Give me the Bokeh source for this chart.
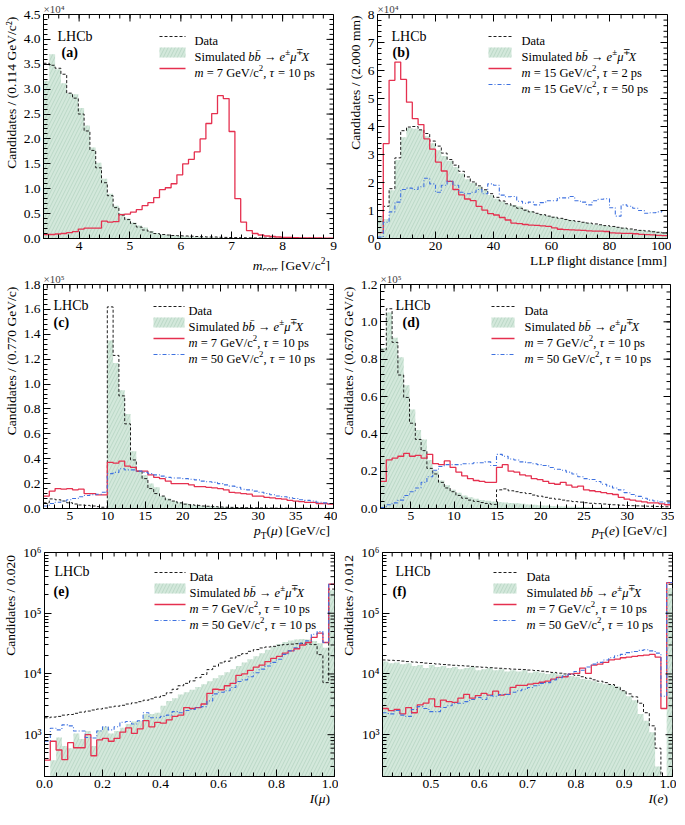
import math
import numpy as np
from bokeh.plotting import figure
from bokeh.models import Range1d, FixedTicker, Label, CustomJSTickFormatter, PrintfTickFormatter, Div
from bokeh.layouts import column, row
from bokeh.embed import file_html
from bokeh.resources import INLINE

FONT = "Liberation Serif"
C_DATA = "#1e1e1e"
C_RED = "#e5304f"
C_BLUE = "#3f72e0"
C_FILL = "#d3e8db"
C_HATCH = "#a9cdb9"
NBINS = 50

# ---------------- data ----------------
# (a) m_corr, 3.3-9.0 GeV/c^2, units 1e4
A_RANGE = (3.3, 9.0)
a_data = [3.52, 3.48, 3.42, 3.30, 2.92, 2.82, 2.50, 2.16, 1.77, 1.42,
          1.12, 0.86, 0.62, 0.47, 0.38, 0.30, 0.23, 0.17, 0.13, 0.10,
          0.08, 0.07, 0.06, 0.055, 0.05, 0.045, 0.04, 0.035, 0.03, 0.03,
          0.025, 0.022, 0.02, 0.018, 0.015, 0.013, 0.012, 0.01, 0.009, 0.008,
          0.007, 0.006, 0.005, 0.005, 0.004, 0.004, 0.003, 0.003, 0.002, 0.002]
a_sim = [3.17, 3.70, 3.40, 3.12, 2.92, 2.90, 2.62, 2.27, 1.83, 1.52,
         1.20, 0.90, 0.66, 0.50, 0.40, 0.32, 0.26, 0.22, 0.15, 0.11,
         0.08, 0.07, 0.06, 0.05, 0.04, 0.035, 0.03, 0.025, 0.02, 0.018,
         0.015, 0.012, 0.01, 0.008, 0.007, 0.006, 0.005, 0.004, 0.004, 0.003,
         0.003, 0.002, 0.002, 0.002, 0.001, 0.001, 0.001, 0.001, 0.001, 0.001]
a_sig7 = [0.08, 0.08, 0.09, 0.10, 0.12, 0.14, 0.19, 0.21, 0.21, 0.21,
          0.35, 0.33, 0.34, 0.48, 0.49, 0.53, 0.58, 0.66, 0.72, 0.82,
          0.98, 1.02, 1.10, 1.28, 1.50, 1.59, 1.74, 2.00, 2.31, 2.51,
          2.87, 2.81, 2.15, 0.80, 0.33, 0.16, 0.10, 0.07, 0.05, 0.04,
          0.03, 0.02, 0.02, 0.015, 0.01, 0.01, 0.01, 0.01, 0.005, 0.005]

# (b) LLP flight distance, 0-100 mm, units 1e4
B_RANGE = (0.0, 100.0)
b_data = [0.60, 1.15, 1.78, 2.88, 3.85, 3.98, 4.00, 3.88, 3.75, 3.48,
          3.30, 3.05, 2.82, 2.62, 2.40, 2.20, 2.02, 1.88, 1.74, 1.60,
          1.47, 1.34, 1.24, 1.16, 1.08, 1.01, 0.95, 0.90, 0.85, 0.80,
          0.76, 0.72, 0.68, 0.64, 0.61, 0.58, 0.55, 0.52, 0.49, 0.46,
          0.43, 0.40, 0.37, 0.34, 0.31, 0.29, 0.27, 0.24, 0.22, 0.20]
b_sim = [0.80, 0.70, 1.72, 2.80, 3.62, 3.95, 3.92, 3.88, 3.65, 3.40,
         3.15, 2.95, 2.78, 2.55, 2.32, 2.12, 1.98, 1.85, 1.72, 1.55,
         1.42, 1.32, 1.22, 1.20, 1.15, 1.05, 0.98, 0.88, 0.86, 0.80,
         0.78, 0.72, 0.70, 0.66, 0.60, 0.58, 0.55, 0.50, 0.48, 0.45,
         0.42, 0.40, 0.38, 0.33, 0.30, 0.30, 0.27, 0.28, 0.25, 0.20]
b_sig2 = [0.21, 3.39, 5.65, 6.30, 5.68, 4.87, 4.28, 4.07, 3.56, 3.19,
          2.73, 2.41, 2.04, 1.75, 1.56, 1.41, 1.35, 1.15, 1.01, 0.89,
          0.84, 0.75, 0.66, 0.55, 0.53, 0.50, 0.48, 0.47, 0.45, 0.43,
          0.38, 0.33, 0.32, 0.31, 0.30, 0.29, 0.27, 0.26, 0.26, 0.25,
          0.20, 0.19, 0.18, 0.18, 0.17, 0.15, 0.14, 0.13, 0.11, 0.10]
b_sig50 = [0.05, 0.58, 0.95, 1.30, 1.75, 1.80, 1.75, 1.85, 2.15, 1.95,
           1.65, 1.90, 2.05, 1.90, 1.65, 1.60, 1.65, 1.75, 1.60, 1.95,
           1.90, 1.55, 1.49, 1.50, 1.33, 1.26, 1.30, 1.20, 1.28, 1.35,
           1.35, 1.45, 1.45, 1.50, 1.35, 1.30, 1.20, 1.35, 1.40, 1.42,
           1.10, 0.80, 1.20, 1.15, 1.08, 1.00, 0.90, 0.92, 0.95, 1.00]

# (c) pT(mu), 1.5-40 GeV/c, units 1e5
C_RANGE = (1.5, 40.0)
c_data = [0.046, 0.077, 0.070, 0.060, 0.046, 0.036, 0.028, 0.025, 0.020, 0.015,
          0.010, 1.62, 1.23, 0.905, 0.68, 0.39, 0.30, 0.24, 0.16, 0.12,
          0.10, 0.07, 0.06, 0.045, 0.035, 0.03, 0.025, 0.02, 0.018, 0.015,
          0.012, 0.01, 0.009, 0.008, 0.007, 0.006, 0.005, 0.005, 0.004, 0.004,
          0.003, 0.003, 0.003, 0.002, 0.002, 0.002, 0.002, 0.001, 0.001, 0.001]
c_sim = [0.0, 0.0, 0.0, 0.0, 0.0, 0.0, 0.0, 0.0, 0.0, 0.0,
         0.0, 1.35, 1.17, 0.95, 0.76, 0.46, 0.30, 0.27, 0.20, 0.17,
         0.10, 0.08, 0.06, 0.05, 0.04, 0.03, 0.025, 0.02, 0.018, 0.015,
         0.012, 0.01, 0.009, 0.008, 0.007, 0.006, 0.005, 0.005, 0.004, 0.004,
         0.003, 0.003, 0.003, 0.002, 0.002, 0.002, 0.002, 0.001, 0.001, 0.001]
c_sig7 = [0.10, 0.14, 0.16, 0.155, 0.16, 0.15, 0.155, 0.12, 0.12, 0.11,
          0.11, 0.37, 0.365, 0.38, 0.34, 0.33, 0.30, 0.30, 0.27, 0.25,
          0.24, 0.22, 0.20, 0.20, 0.20, 0.19, 0.175, 0.175, 0.17, 0.165,
          0.16, 0.15, 0.13, 0.125, 0.12, 0.115, 0.10, 0.10, 0.09, 0.085,
          0.08, 0.075, 0.065, 0.06, 0.055, 0.05, 0.05, 0.04, 0.04, 0.035]
c_sig50 = [0.02, 0.04, 0.05, 0.06, 0.07, 0.08, 0.095, 0.105, 0.11, 0.115,
           0.13, 0.28, 0.29, 0.32, 0.31, 0.31, 0.30, 0.29, 0.28, 0.27,
           0.26, 0.25, 0.245, 0.245, 0.24, 0.235, 0.23, 0.22, 0.215, 0.21,
           0.20, 0.19, 0.18, 0.17, 0.155, 0.15, 0.14, 0.13, 0.12, 0.11,
           0.10, 0.095, 0.085, 0.08, 0.07, 0.065, 0.06, 0.05, 0.045, 0.04]

# (d) pT(e), 1.5-35 GeV/c, units 1e5
D_RANGE = (1.5, 35.0)
d_data = [0.85, 1.07, 0.89, 0.715, 0.595, 0.457, 0.37, 0.31, 0.215, 0.185,
          0.14, 0.11, 0.09, 0.07, 0.055, 0.045, 0.038, 0.032, 0.027, 0.022,
          0.10, 0.105, 0.095, 0.09, 0.085, 0.08, 0.072, 0.066, 0.06, 0.055,
          0.05, 0.045, 0.041, 0.037, 0.034, 0.031, 0.028, 0.026, 0.024, 0.022,
          0.02, 0.018, 0.016, 0.015, 0.014, 0.013, 0.012, 0.011, 0.010, 0.009]
d_sim = [0.86, 1.05, 0.915, 0.81, 0.66, 0.53, 0.42, 0.37, 0.26, 0.20,
         0.15, 0.125, 0.10, 0.085, 0.07, 0.06, 0.052, 0.046, 0.041, 0.038,
         0.035, 0.032, 0.03, 0.028, 0.025, 0.022, 0.02, 0.018, 0.016, 0.014,
         0.012, 0.011, 0.01, 0.009, 0.008, 0.007, 0.006, 0.0055, 0.005, 0.0045,
         0.004, 0.0035, 0.003, 0.003, 0.0025, 0.0025, 0.002, 0.002, 0.002, 0.002]
d_sig7 = [0.145, 0.26, 0.27, 0.28, 0.295, 0.28, 0.285, 0.27, 0.29, 0.24,
          0.235, 0.255, 0.22, 0.195, 0.175, 0.16, 0.15, 0.145, 0.14, 0.14,
          0.22, 0.235, 0.20, 0.195, 0.18, 0.175, 0.16, 0.155, 0.145, 0.135,
          0.13, 0.14, 0.125, 0.115, 0.12, 0.10, 0.095, 0.09, 0.085, 0.08,
          0.075, 0.06, 0.05, 0.045, 0.04, 0.035, 0.03, 0.03, 0.025, 0.02]
d_sig50 = [0.005, 0.02, 0.03, 0.045, 0.07, 0.09, 0.11, 0.14, 0.17, 0.205,
           0.225, 0.235, 0.235, 0.235, 0.24, 0.24, 0.245, 0.245, 0.25, 0.23,
           0.29, 0.28, 0.265, 0.26, 0.25, 0.245, 0.24, 0.235, 0.23, 0.22,
           0.21, 0.205, 0.195, 0.185, 0.17, 0.16, 0.155, 0.145, 0.13, 0.12,
           0.11, 0.10, 0.085, 0.075, 0.065, 0.055, 0.045, 0.04, 0.035, 0.03]

# (e) I(mu), 0-1, candidates
E_RANGE = (0.0, 1.0)
e_data = [1900, 1950, 2000, 2100, 2150, 2250, 2350, 2450, 2550, 2650,
          2750, 2850, 2950, 3050, 3200, 3350, 3500, 3700, 3900, 4150,
          4400, 4900, 5600, 6400, 7000, 7700, 8700, 9800, 11800, 13400,
          15200, 16200, 18300, 20000, 21600, 23600, 25200, 26800, 27800, 28500,
          29600, 30400, 31000, 31500, 32000, 31000, 30400, 20800, 7200, 250000]
e_sim = [100, 380, 900, 650, 600, 1050, 850, 1150, 650, 1200,
         1350, 1050, 1150, 1300, 1500, 1650, 1700, 2200, 2200, 2300,
         3000, 3600, 4000, 4600, 5000, 5500, 6100, 6800, 7600, 8500,
         9500, 10700, 12000, 13500, 15500, 17500, 19500, 22000, 25000, 28000,
         31000, 33500, 35500, 37000, 37500, 37000, 35000, 32000, 27000, 240000]
e_sig7 = [380, 780, 560, 390, 740, 610, 610, 1000, 450, 820,
          870, 780, 870, 1100, 1300, 1050, 1250, 1700, 1350, 1600,
          1550, 1750, 2000, 2100, 2800, 2700, 2800, 3200, 4800, 5600,
          5500, 6400, 7000, 9500, 10000, 11500, 13000, 14000, 16000, 18000,
          19500, 22000, 24000, 26000, 30000, 33000, 40000, 47000, 33000, 300000]
e_sig50 = [780, 1280, 1200, 1450, 1400, 1150, 1150, 900, 880, 1150,
           1350, 1200, 1350, 1600, 1650, 1500, 1700, 2300, 1900, 1900,
           2000, 2100, 2400, 2300, 2500, 2600, 2800, 2900, 3600, 4700,
           5000, 5300, 6000, 7500, 8000, 9000, 10500, 12000, 13500, 15500,
           17500, 21000, 24000, 27000, 32000, 35000, 45000, 50000, 33000, 300000]

# (f) I(e), 0.4-1.0, candidates
F_RANGE = (0.4, 1.0)
f_data = [17000, 16800, 16600, 16300, 16000, 15700, 15400, 15100, 14900, 14600,
          14300, 14100, 13900, 13700, 13500, 13300, 13100, 12900, 12700, 12500,
          12400, 12200, 12000, 11900, 11800, 11600, 11400, 11100, 10900, 10600,
          10300, 10000, 9800, 9500, 9000, 8500, 8000, 7600, 7200, 6700,
          6000, 5300, 4700, 4200, 3300, 2300, 1400, 600, 150, 150]
f_sim = [16000, 15000, 15500, 14500, 15000, 13500, 14000, 12500, 14000, 13000,
         13500, 12500, 13000, 12000, 12500, 13000, 11500, 12000, 12500, 11500,
         12000, 11000, 11500, 11000, 11500, 10500, 11000, 10500, 10000, 10500,
         9800, 9500, 9300, 9000, 8300, 8000, 7600, 7200, 6800, 6600,
         6200, 5300, 4300, 3700, 2200, 1700, 1100, 300, 60, 260000]
f_sig7 = [2700, 2500, 2600, 2200, 2800, 2300, 3100, 3300, 3900, 2900,
          3700, 3500, 3400, 4000, 4600, 4000, 4400, 4800, 4500, 5200,
          4500, 4600, 6000, 6500, 6500, 6800, 7000, 7300, 7600, 8200,
          8800, 9000, 10000, 10200, 12500, 10200, 14000, 14500, 15500, 17000,
          17500, 18500, 19000, 19500, 20000, 20500, 21000, 19000, 2700, 320000]
f_sig50 = [2300, 2200, 2500, 2100, 2000, 2600, 2900, 2700, 2400, 2400,
           2800, 3000, 3300, 3300, 3500, 3800, 4100, 3800, 4400, 4300,
           4600, 4600, 5000, 5300, 5600, 6000, 6400, 7000, 7200, 8000,
           8700, 9300, 10000, 11000, 11500, 13000, 14500, 15500, 17000, 18500,
           20000, 21000, 22500, 23500, 24500, 25000, 24000, 22000, 4300, 320000]

# ---------------- text metrics (Times / Liberation Serif, 1/1000 em) ----------------
_REG = {c: 500 for c in "0123456789"}
_REG.update(dict(zip("ABCDEFGHIJKLMNOPQRSTUVWXYZ",
                     [722, 667, 667, 722, 611, 556, 722, 722, 333, 389, 722, 611, 889,
                      722, 722, 556, 722, 667, 556, 611, 722, 722, 944, 722, 722, 611])))
_REG.update(dict(zip("abcdefghijklmnopqrstuvwxyz",
                     [444, 500, 444, 500, 444, 333, 500, 500, 278, 278, 500, 278, 778,
                      500, 500, 500, 500, 333, 389, 278, 500, 500, 722, 500, 500, 444])))
_REG.update({" ": 250, "\u00a0": 250, "(": 333, ")": 333, "[": 333, "]": 333, "/": 278,
             ".": 250, ",": 250, "=": 564, "\u00b1": 564, "\u2213": 564, "\u2192": 1000,
             "\u00b2": 300, "\u03bc": 500, "\u03c4": 440, "\u0304": 0, "\u00d7": 564})
_ITA = dict(_REG)
_ITA.update(dict(zip("abcdefghijklmnopqrstuvwxyz",
                     [500, 500, 444, 500, 444, 278, 500, 500, 278, 278, 444, 278, 722,
                      500, 500, 500, 500, 389, 389, 278, 500, 444, 667, 444, 444, 389])))
_ITA.update(dict(zip("ABCDEFGHIJKLMNOPQRSTUVWXYZ",
                     [611, 611, 667, 722, 611, 611, 722, 722, 333, 444, 667, 556, 833,
                      667, 722, 611, 722, 611, 500, 556, 722, 611, 833, 611, 556, 556])))


def tw(s, size, italic=False):
    tbl = _ITA if italic else _REG
    return sum(tbl.get(c, 500) for c in s) * size / 1000.0


FW, FH = 290, 224
BL, BR = 40, 4
AX_FS = 13.5

LOGFMT = CustomJSTickFormatter(code="""
const s = {"0":"\u2070","1":"\u00b9","2":"\u00b2","3":"\u00b3","4":"\u2074","5":"\u2075","6":"\u2076","7":"\u2077","8":"\u2078","9":"\u2079"};
const e = Math.round(Math.log10(tick));
return "10" + String(e).split("").map(c => s[c]).join("");
""")


def ticks(start, stop, step):
    n = int(round((stop - start) / step))
    return [round(start + i * step, 6) for i in range(n + 1)]


def px2x(S, px):
    x0, x1 = S["xr"]
    return x0 + px / FW * (x1 - x0)


def py2y(S, py):
    y0, y1 = S["yr"]
    f = (FH - py) / FH
    if S["log"]:
        a, b = math.log10(y0), math.log10(y1)
        return 10 ** (a + f * (b - a))
    return y0 + f * (y1 - y0)


def txt(p, S, px, py, text, size, style="normal", align="left", baseline="alphabetic"):
    p.add_layout(Label(x=px2x(S, px), y=py2y(S, py), text=text, text_font=FONT,
                       text_font_size=f"{size:.2f}px", text_font_style=style,
                       text_align=align, text_baseline=baseline, text_color="black"))


def rich(p, S, px, py, pieces, size):
    x = px
    for t, st, sc, dy in pieces:
        s = size * sc
        it = "italic" in st
        lead = len(t) - len(t.lstrip(" "))
        core = t.strip(" ")
        if core:
            txt(p, S, x + tw(" " * lead, s, it), py + dy, core, s, st)
        x += tw(t, s, it)


def sig_label(m, tau):
    return [("m", "italic", 1, 0), (f" = {m} GeV/c", "normal", 1, 0), ("2", "normal", 0.7, -4.5),
            (", ", "normal", 1, 0), ("\u03c4", "italic", 1, 0), (f" = {tau} ps", "normal", 1, 0)]


DATA_T = [("Data", "normal", 1, 0)]
SIM_T = [("Simulated ", "normal", 1, 0), ("bb\u0304", "italic", 1, 0), (" \u2192 ", "normal", 1, 0),
         ("e", "italic", 1, 0), ("\u00b1", "normal", 0.72, -4.5), ("\u03bc", "italic", 1, 0),
         ("\u2213", "normal", 0.72, -4.5), ("X", "italic", 1, 0)]


def hist(p, edges, vals, color, dash="solid", width=1.0):
    xs = list(edges)
    ys = list(vals) + [vals[-1]]
    p.step(x=xs, y=ys, mode="after", line_color=color, line_dash=dash, line_width=width)


HATCH = dict(fill_color=C_FILL, hatch_pattern="/", hatch_color=C_HATCH, hatch_weight=0.6, hatch_scale=7)


def fill(p, edges, vals, base):
    xs = list(edges)
    ys = list(vals) + [vals[-1]]
    p.varea_step(x=xs, y1=[base] * len(xs), y2=ys, step_mode="after", **HATCH)


def in_range(v, a, b):
    return a - 1e-9 <= v <= b + 1e-9


def mirror_ticks(p, S):
    x0, x1 = S["xr"]
    y0, y1 = S["yr"]
    for vals, L in ((S["xmaj"], 7), (S["xmin"], 4)):
        xs = [v for v in vals if in_range(v, x0, x1)]
        p.segment(x0=xs, y0=[y1] * len(xs), x1=xs, y1=[py2y(S, L)] * len(xs),
                  line_color="black", line_width=1)
    for vals, L in ((S["ymaj"], 7), (S["ymin"], 4)):
        ys = [v for v in vals if in_range(v, y0, y1)]
        p.segment(x0=[x1] * len(ys), y0=ys, x1=[px2x(S, FW - L)] * len(ys), y1=ys,
                  line_color="black", line_width=1)


def top_aligned(label):
    # the axis title is centred on the axis; pad it in front so that its end meets the frame top
    n = int((FH - 2 - tw(label, AX_FS)) / tw("\u00a0", AX_FS))
    return "\u00a0" * max(n, 0) + label


def build(S):
    log = S["log"]
    p = figure(frame_width=FW, frame_height=FH,
               x_range=Range1d(*S["xr"]), y_range=Range1d(*S["yr"]),
               y_axis_type="log" if log else "linear",
               output_backend="svg", toolbar_location=None,
               min_border_left=BL, min_border_right=BR,
               min_border_top=S["bt"], min_border_bottom=16)
    p.xgrid.visible = False
    p.ygrid.visible = False
    p.outline_line_color = "black"
    p.background_fill_color = "white"
    p.border_fill_color = "white"

    # multiplier (x10^n) shown as the plot title, left aligned above the frame
    p.title.text = S.get("mult") or ""
    p.title.align = "left"
    p.title.text_font = FONT
    p.title.text_font_size = "11px"
    p.title.text_font_style = "normal"
    p.title.standoff = 0
    p.title.offset = 0

    xa, ya = p.below[0], p.left[0]
    xa.ticker = FixedTicker(ticks=S["xmaj"], minor_ticks=S["xmin"])
    ya.ticker = FixedTicker(ticks=S["ymaj"], minor_ticks=S["ymin"])
    xa.formatter = PrintfTickFormatter(format=S["xfmt"])
    ya.formatter = LOGFMT if log else PrintfTickFormatter(format=S["yfmt"])
    for ax in (xa, ya):
        ax.axis_line_color = "black"
        ax.major_tick_in = 7
        ax.major_tick_out = 0
        ax.minor_tick_in = 4
        ax.minor_tick_out = 0
        ax.major_tick_line_color = "black"
        ax.minor_tick_line_color = "black"
        ax.major_label_text_font = FONT
        ax.major_label_text_font_size = f"{AX_FS}px"
        ax.major_label_text_color = "black"
        ax.major_label_standoff = 3
    ya.axis_label = top_aligned(S["ylabel"])
    ya.axis_label_text_font = FONT
    ya.axis_label_text_font_size = f"{AX_FS}px"
    ya.axis_label_text_font_style = "normal"
    ya.axis_label_text_color = "black"
    ya.axis_label_standoff = 2

    edges = np.linspace(S["hr"][0], S["hr"][1], NBINS + 1)
    base = 1.0 if log else 0.0
    fill(p, edges, S["sim"], base)
    hist(p, edges, S["data"], C_DATA, dash="3 2", width=1.0)
    if S.get("red") is not None:
        hist(p, edges, S["red"], C_RED, width=1.3)
    if S.get("blue") is not None:
        hist(p, edges, S["blue"], C_BLUE, dash="4 2 1 2", width=1.1)
    mirror_ticks(p, S)

    # legend (drawn by hand so that the mixed italic text can be kept)
    lx0, lx1, ltx = S["leg_x"]
    for (kind, pieces), yc in zip(S["entries"], S["leg_rows"]):
        xa0, xb0 = px2x(S, lx0), px2x(S, lx1)
        if kind == "data":
            p.line(x=[xa0, xb0], y=[py2y(S, yc)] * 2, line_color=C_DATA, line_dash="3 2", line_width=1.0)
        elif kind == "sim":
            p.varea(x=[xa0, xb0], y1=[py2y(S, yc + 5)] * 2, y2=[py2y(S, yc - 5)] * 2, **HATCH)
        elif kind == "red":
            p.line(x=[xa0, xb0], y=[py2y(S, yc)] * 2, line_color=C_RED, line_width=1.3)
        elif kind == "blue":
            p.line(x=[xa0, xb0], y=[py2y(S, yc)] * 2, line_color=C_BLUE, line_dash="4 2 1 2", line_width=1.1)
        rich(p, S, ltx, yc + 4.3, pieces, 12.5)

    lx, ly = S["lhcb"]
    txt(p, S, lx, ly, "LHCb", 14)
    kx, ky = S["letter_pos"]
    txt(p, S, kx, ky, S["letter"], 14, style="bold")

    div = Div(text=S["xlabel"], width=BL + FW + BR, height=16, margin=(0, 0, 0, 0),
              styles={"text-align": "right", "font-family": "'Liberation Serif', serif",
                      "font-size": f"{AX_FS}px", "line-height": "14px", "color": "black",
                      "padding-right": f"{BR}px", "box-sizing": "border-box",
                      "white-space": "nowrap"})
    return column(p, div, spacing=0)


LOG_MINOR = [m * 10 ** e for e in (2, 3, 4, 5) for m in range(2, 10)]

SIG7 = ("red", sig_label(7, 10))
SIG50 = ("blue", sig_label(50, 10))

specs = {
    "a": dict(xr=A_RANGE, hr=A_RANGE, yr=(0, 4.5), log=False, xfmt="%d", yfmt="%.1f",
              xmaj=[4, 5, 6, 7, 8, 9], xmin=ticks(3.4, 9.0, 0.2),
              ymaj=ticks(0, 4.5, 0.5), ymin=ticks(0, 4.5, 0.1), bt=14,
              sim=a_sim, data=a_data, red=a_sig7, blue=None,
              leg_x=(116, 142, 151), leg_rows=[22, 38, 54],
              entries=[("data", DATA_T), ("sim", SIM_T), SIG7],
              lhcb=(14, 22), letter_pos=(18, 38), letter="(a)",
              ylabel="Candidates / (0.114 GeV/c\u00b2)", mult="\u00d710\u2074",
              xlabel="<i>m</i><sub style='font-size:70%'>corr</sub> [GeV/c<sup style='font-size:70%'>2</sup>]"),
    "b": dict(xr=B_RANGE, hr=B_RANGE, yr=(0, 8), log=False, xfmt="%d", yfmt="%d",
              xmaj=ticks(0, 100, 20), xmin=ticks(0, 100, 4),
              ymaj=ticks(0, 8, 1), ymin=ticks(0, 8, 0.2), bt=14,
              sim=b_sim, data=b_data, red=b_sig2, blue=b_sig50,
              leg_x=(111, 134, 144), leg_rows=[22, 38, 54, 70],
              entries=[("data", DATA_T), ("sim", SIM_T), ("red", sig_label(15, 2)),
                       ("blue", sig_label(15, 50))],
              lhcb=(14, 22), letter_pos=(15, 38), letter="(b)",
              ylabel="Candidates / (2.000 mm)", mult="\u00d710\u2074",
              xlabel="LLP flight distance [mm]"),
    "c": dict(xr=C_RANGE, hr=C_RANGE, yr=(0, 1.8), log=False, xfmt="%d", yfmt="%.1f",
              xmaj=ticks(5, 40, 5), xmin=ticks(2, 40, 1),
              ymaj=ticks(0, 1.8, 0.2), ymin=ticks(0, 1.8, 0.04), bt=14,
              sim=c_sim, data=c_data, red=c_sig7, blue=c_sig50,
              leg_x=(110, 141, 145), leg_rows=[22, 38, 54, 70],
              entries=[("data", DATA_T), ("sim", SIM_T), SIG7, SIG50],
              lhcb=(10, 21), letter_pos=(10, 38), letter="(c)",
              ylabel="Candidates / (0.770 GeV/c)", mult="\u00d710\u2075",
              xlabel="<i>p</i><sub style='font-size:70%'>T</sub>(<i>\u03bc</i>) [GeV/c]"),
    "d": dict(xr=D_RANGE, hr=D_RANGE, yr=(0, 1.2), log=False, xfmt="%d", yfmt="%.1f",
              xmaj=ticks(5, 35, 5), xmin=ticks(2, 35, 1),
              ymaj=ticks(0, 1.2, 0.2), ymin=ticks(0, 1.2, 0.04), bt=14,
              sim=d_sim, data=d_data, red=d_sig7, blue=d_sig50,
              leg_x=(111, 134, 144), leg_rows=[22, 38, 54, 70],
              entries=[("data", DATA_T), ("sim", SIM_T), SIG7, SIG50],
              lhcb=(15, 21), letter_pos=(22, 38), letter="(d)",
              ylabel="Candidates / (0.670 GeV/c)", mult="\u00d710\u2075",
              xlabel="<i>p</i><sub style='font-size:70%'>T</sub>(<i>e</i>) [GeV/c]"),
    "e": dict(xr=E_RANGE, hr=E_RANGE, yr=(205, 1e6), log=True, xfmt="%.1f", yfmt="",
              xmaj=ticks(0, 1.0, 0.2), xmin=ticks(0, 1.0, 0.04),
              ymaj=[1e3, 1e4, 1e5, 1e6], ymin=LOG_MINOR, bt=12,
              sim=e_sim, data=e_data, red=e_sig7, blue=e_sig50,
              leg_x=(110, 141, 145), leg_rows=[20, 36, 52, 68],
              entries=[("data", DATA_T), ("sim", SIM_T), SIG7, SIG50],
              lhcb=(10, 19), letter_pos=(9, 39), letter="(e)",
              ylabel="Candidates / 0.020", mult=None,
              xlabel="<i>I</i>(<i>\u03bc</i>)"),
    "f": dict(xr=F_RANGE, hr=F_RANGE, yr=(205, 1e6), log=True, xfmt="%.1f", yfmt="",
              xmaj=ticks(0.5, 1.0, 0.1), xmin=ticks(0.42, 1.0, 0.02),
              ymaj=[1e3, 1e4, 1e5, 1e6], ymin=LOG_MINOR, bt=12,
              sim=f_sim, data=f_data, red=f_sig7, blue=f_sig50,
              leg_x=(111, 134, 144), leg_rows=[20, 36, 52, 68],
              entries=[("data", DATA_T), ("sim", SIM_T), SIG7, SIG50],
              lhcb=(13, 19), letter_pos=(10, 39), letter="(f)",
              ylabel="Candidates / 0.012", mult=None,
              xlabel="<i>I</i>(<i>e</i>)"),
}

cells = {k: build(v) for k, v in specs.items()}
layout = column(row(cells["a"], cells["b"], spacing=0),
                row(cells["c"], cells["d"], spacing=0),
                row(cells["e"], cells["f"], spacing=0), spacing=0)

open("out.html", "w").write(file_html(layout, INLINE))
